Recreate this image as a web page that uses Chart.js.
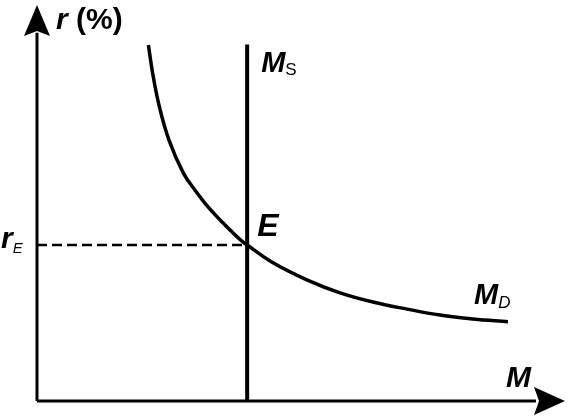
<!DOCTYPE html>
<html>
<head>
<meta charset="utf-8">
<script src="https://cdn.jsdelivr.net/npm/chart.js@4/dist/chart.umd.min.js"></script>
<style>
  html, body { margin: 0; padding: 0; background: #fff; }
  #wrap { width: 568px; height: 416px; }
</style>
</head>
<body>
<div id="wrap"><canvas id="c" width="568" height="416"></canvas></div>
<script>
// Money demand curve (M, r)
const mdM = [2.11, 2.19, 2.32, 2.50, 2.77, 2.99, 3.24, 3.52, 3.85, 3.98, 4.47, 5.11, 5.74, 6.36, 7.01, 7.63, 8.26, 8.92];
const mdR = [8.99, 8.28, 7.42, 6.59, 5.76, 5.33, 4.90, 4.50, 4.07, 3.94, 3.49, 3.06, 2.73, 2.50, 2.32, 2.17, 2.07, 2.00];
// Money supply (vertical) and equilibrium
const msM = 3.98;
const msTop = 9.0;
const rE = 3.94;
// Axis extents (arrow tips)
const xMax = 10;
const yMax = 10;
const labels = { yAxisVar: "r", yAxisUnit: "(%)", xAxis: "M", ms: ["M", "S"], md: ["M", "D"], eq: "E", rE: ["r", "E"] };

const mdData = mdM.map((m, i) => ({ x: m, y: mdR[i] }));

const FONT = '"Liberation Sans", Arial, sans-serif';

const overlay = {
  id: 'overlay',
  afterDatasetsDraw(chart) {
    const ctx = chart.ctx;
    const xs = chart.scales.x, ys = chart.scales.y;
    const X = v => xs.getPixelForValue(v), Y = v => ys.getPixelForValue(v);
    ctx.save();
    ctx.fillStyle = '#000';
    // y-axis arrow
    const ox = X(0), oy = Y(0);
    const ty = Y(yMax);
    ctx.beginPath();
    ctx.moveTo(ox, ty);
    ctx.lineTo(ox + 13, ty + 31);
    ctx.lineTo(ox, ty + 26);
    ctx.lineTo(ox - 13, ty + 31);
    ctx.closePath();
    ctx.fill();
    // x-axis arrow
    const tx = X(xMax);
    ctx.beginPath();
    ctx.moveTo(tx, oy);
    ctx.lineTo(tx - 31, oy - 14);
    ctx.lineTo(tx - 26, oy);
    ctx.lineTo(tx - 31, oy + 14);
    ctx.closePath();
    ctx.fill();

    ctx.textBaseline = 'alphabetic';
    ctx.textAlign = 'left';
    function sub(main, s, x, y, size, subFont, subDy) {
      ctx.font = 'italic bold ' + size + 'px ' + FONT;
      ctx.fillText(main, x, y);
      const w = ctx.measureText(main).width;
      ctx.font = subFont;
      ctx.fillText(s, x + w, y + subDy);
    }
    // r (%)
    ctx.font = 'italic bold 30px ' + FONT;
    ctx.fillText(labels.yAxisVar, ox + 19, ty + 24);
    const rw = ctx.measureText(labels.yAxisVar + ' ').width;
    ctx.font = 'bold 30px ' + FONT;
    ctx.fillText(labels.yAxisUnit, ox + 19 + rw, ty + 24);
    // M_S
    sub(labels.ms[0], labels.ms[1], X(msM) + 14, Y(msTop) + 27, 29, '17px ' + FONT, 3);
    // E
    ctx.font = 'italic bold 32px ' + FONT;
    ctx.fillText(labels.eq, X(msM) + 10, Y(rE) - 9);
    // M_D
    const last = mdData[mdData.length - 1];
    sub(labels.md[0], labels.md[1], X(last.x) - 34, Y(last.y) - 18, 29, 'italic 17px ' + FONT, 4);
    // M (x-axis)
    ctx.font = 'italic bold 30px ' + FONT;
    ctx.fillText(labels.xAxis, tx - 59, oy - 14);
    // r_E
    sub(labels.rE[0], labels.rE[1], 1, Y(rE) + 3, 30, 'italic 15px ' + FONT, 5);
    ctx.restore();
  }
};

new Chart(document.getElementById('c'), {
  type: 'scatter',
  data: {
    datasets: [
      { // y axis
        data: [{ x: 0, y: 0 }, { x: 0, y: yMax - 0.7 }],
        showLine: true, borderColor: '#000', borderWidth: 3, pointRadius: 0, clip: false
      },
      { // x axis
        data: [{ x: 0, y: 0 }, { x: xMax - 0.55, y: 0 }],
        showLine: true, borderColor: '#000', borderWidth: 3, pointRadius: 0, clip: false
      },
      { // dashed r_E
        data: [{ x: 0, y: rE }, { x: msM, y: rE }],
        showLine: true, borderColor: '#000', borderWidth: 2.5, borderDash: [10, 5], pointRadius: 0, clip: false
      },
      { // money supply
        data: [{ x: msM, y: 0 }, { x: msM, y: msTop }],
        showLine: true, borderColor: '#000', borderWidth: 4, pointRadius: 0, clip: false
      },
      { // money demand
        data: mdData,
        showLine: true, borderColor: '#000', borderWidth: 3.5, pointRadius: 0,
        tension: 0.4, clip: false, borderCapStyle: 'butt'
      }
    ]
  },
  options: {
    responsive: false,
    animation: false,
    layout: { padding: { left: 37, right: 3, top: 5, bottom: 15 } },
    plugins: { legend: { display: false }, tooltip: { enabled: false } },
    scales: {
      x: { type: 'linear', min: 0, max: xMax, display: false },
      y: { type: 'linear', min: 0, max: yMax, display: false }
    }
  },
  plugins: [overlay]
});
</script>
</body>
</html>
